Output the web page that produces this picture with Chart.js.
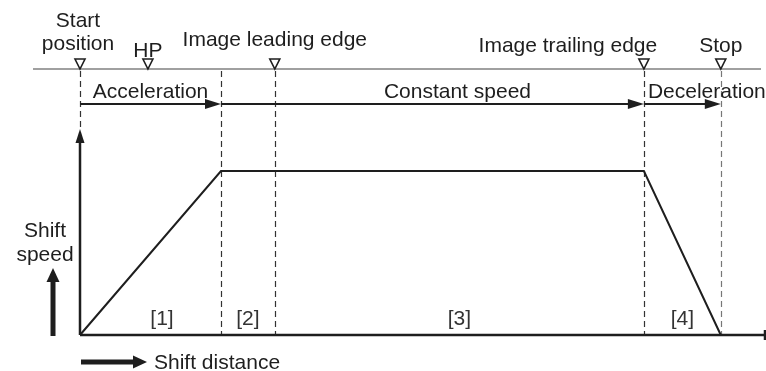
<!DOCTYPE html>
<html>
<head>
<meta charset="utf-8">
<script src="https://cdn.jsdelivr.net/npm/chart.js@4"></script>
<style>
  html, body { margin: 0; padding: 0; background: #fff; }
  #wrap { width: 766px; height: 371px; }
</style>
</head>
<body>
<div id="wrap"><canvas id="myChart" width="766" height="371"></canvas></div>
<script>
// speed profile (distance units: stop position = 100, speed: constant = 1)
const profileDist = [0, 22, 88, 100];
const profileSpeed = [0, 1, 1, 0];

// position markers on the upper rail
const markerNames = ['Start position', 'HP', 'Image leading edge', 'Image trailing edge', 'Stop'];
const markerPos = [0, 10.6, 30.4, 88, 100];

// phases drawn as arrows
const phaseNames = ['Acceleration', 'Constant speed', 'Deceleration'];
const phaseBounds = [0, 22, 88, 100];

// section numbers under the curve
const sectionNames = ['[1]', '[2]', '[3]', '[4]'];
const sectionPos = [12.8, 26.2, 59.2, 94];

// dashed guide lines
const guidePos = [0, 22, 30.4, 88, 100];

const FONT = '21px "Liberation Sans", Arial, sans-serif';
const INK = '#1e1e1e';

function arrowHead(ctx, x, y, dir, len, half) {
    // dir: 'r' or 'u'
    ctx.beginPath();
    if (dir === 'r') {
        ctx.moveTo(x, y);
        ctx.lineTo(x - len, y - half);
        ctx.lineTo(x - len, y + half);
    } else {
        ctx.moveTo(x, y);
        ctx.lineTo(x - half, y + len);
        ctx.lineTo(x + half, y + len);
    }
    ctx.closePath();
    ctx.fill();
}

const diagramPlugin = {
    id: 'diagram',
    beforeDatasetsDraw(chart) {
        const ctx = chart.ctx;
        const xs = chart.scales.x;
        const a = chart.chartArea;
        const railY = a.top;
        const arrowY = a.top + 35;
        const yAxisTop = a.top + 60;
        ctx.save();

        // upper rail
        ctx.strokeStyle = '#808080';
        ctx.lineWidth = 1.5;
        ctx.beginPath();
        ctx.moveTo(33, railY);
        ctx.lineTo(761, railY);
        ctx.stroke();

        // dashed guides
        ctx.setLineDash([6, 4]);
        ctx.lineWidth = 1.2;
        guidePos.forEach((p, i) => {
            const x = Math.round(xs.getPixelForValue(p)) + 0.5;
            ctx.strokeStyle = i === guidePos.length - 1 ? '#777' : '#333';
            ctx.beginPath();
            ctx.moveTo(x, railY + 2);
            ctx.lineTo(x, i === 0 ? yAxisTop - 2 : a.bottom);
            ctx.stroke();
        });
        ctx.setLineDash([]);

        // markers (open down triangles)
        ctx.strokeStyle = INK;
        ctx.lineWidth = 1.6;
        markerPos.forEach(p => {
            const x = xs.getPixelForValue(p);
            ctx.beginPath();
            ctx.moveTo(x - 5, railY - 10);
            ctx.lineTo(x + 5, railY - 10);
            ctx.lineTo(x, railY);
            ctx.closePath();
            ctx.stroke();
        });

        // marker labels
        ctx.fillStyle = INK;
        ctx.font = FONT;
        ctx.textAlign = 'center';
        ctx.textBaseline = 'alphabetic';
        const lbl = [
            { dx: -2, y: 27, lines: ['Start', 'position'], lh: 23 },
            { dx: 0, y: 57 },
            { dx: 0, y: 46 },
            { dx: -76, y: 52 },
            { dx: 0, y: 52 }
        ];
        markerNames.forEach((name, i) => {
            const x = xs.getPixelForValue(markerPos[i]) + lbl[i].dx;
            const lines = lbl[i].lines || [name];
            lines.forEach((t, k) => ctx.fillText(t, x, lbl[i].y + k * (lbl[i].lh || 0)));
        });

        // phase arrows and labels
        ctx.fillStyle = INK;
        ctx.strokeStyle = INK;
        ctx.lineWidth = 2;
        const phaseDx = [0, 25, null];
        phaseNames.forEach((name, i) => {
            const x0 = xs.getPixelForValue(phaseBounds[i]);
            const x1 = xs.getPixelForValue(phaseBounds[i + 1]);
            ctx.beginPath();
            ctx.moveTo(x0, arrowY);
            ctx.lineTo(x1 - 10, arrowY);
            ctx.stroke();
            arrowHead(ctx, x1, arrowY, 'r', 16, 5);
            if (phaseDx[i] === null) {
                ctx.textAlign = 'left';
                ctx.fillText(name, x0 + 4, arrowY - 6);
            } else {
                ctx.textAlign = 'center';
                ctx.fillText(name, (x0 + x1) / 2 + phaseDx[i], arrowY - 6);
            }
        });

        // section numbers
        ctx.textAlign = 'center';
        ctx.fillStyle = '#333';
        sectionNames.forEach((t, i) => {
            ctx.fillText(t, xs.getPixelForValue(sectionPos[i]), a.bottom - 10);
        });

        // axes
        ctx.strokeStyle = INK;
        ctx.fillStyle = INK;
        ctx.lineWidth = 2.5;
        ctx.beginPath();
        ctx.moveTo(a.left, a.bottom);
        ctx.lineTo(a.right, a.bottom);
        ctx.moveTo(a.right, a.bottom - 5);
        ctx.lineTo(a.right, a.bottom + 5);
        ctx.moveTo(a.left, a.bottom);
        ctx.lineTo(a.left, yAxisTop + 8);
        ctx.stroke();
        arrowHead(ctx, a.left, yAxisTop, 'u', 14, 4.5);

        // axis captions
        ctx.font = FONT;
        ctx.textAlign = 'center';
        ctx.fillText('Shift', 45, 237);
        ctx.fillText('speed', 45, 261);
        ctx.fillRect(50.5, 280, 5, a.bottom + 1 - 280);
        arrowHead(ctx, 53, 268, 'u', 14, 6.5);
        ctx.fillRect(81, 359.5, 54, 5);
        arrowHead(ctx, 147, 362, 'r', 14, 6.5);
        ctx.textAlign = 'left';
        ctx.fillText('Shift distance', 154, 369);

        ctx.restore();
    }
};

const ctx = document.getElementById('myChart').getContext('2d');
const myChart = new Chart(ctx, {
    type: 'scatter',
    data: {
        datasets: [{
            label: 'Shift speed',
            data: profileDist.map((d, i) => ({ x: d, y: profileSpeed[i] })),
            showLine: true,
            borderColor: INK,
            borderWidth: 2,
            pointRadius: 0,
            tension: 0,
            clip: false
        }]
    },
    options: {
        responsive: false,
        animation: false,
        events: [],
        layout: {
            padding: { left: 80, right: 1, top: 69, bottom: 36 }
        },
        plugins: {
            legend: { display: false },
            tooltip: { enabled: false }
        },
        scales: {
            x: { type: 'linear', display: false, min: 0, max: 106.9 },
            y: { type: 'linear', display: false, min: 0, max: 1.622 }
        }
    },
    plugins: [diagramPlugin]
});
</script>
</body>
</html>
